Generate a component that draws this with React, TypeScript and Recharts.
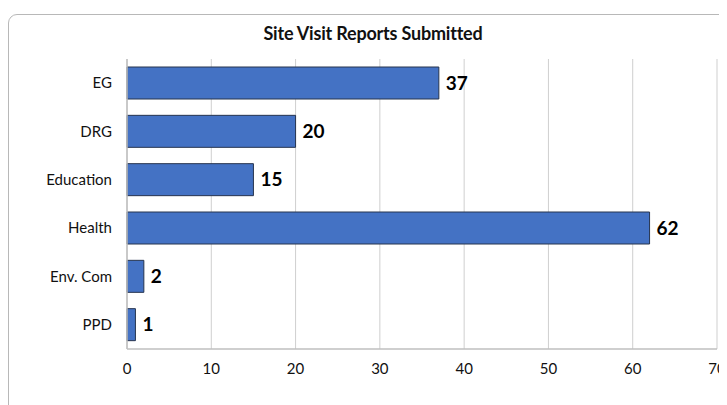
import React from "react";
import { BarChart, Bar, XAxis, YAxis, CartesianGrid, LabelList } from "recharts";

const categories = ["EG", "DRG", "Education", "Health", "Env. Com", "PPD"];
const reports = [37, 20, 15, 62, 2, 1];
const xTicks = [0, 10, 20, 30, 40, 50, 60, 70];
const title = "Site Visit Reports Submitted";

const data = categories.map((name, i) => ({ name, value: reports[i] }));

const FONT = "Lato, 'Open Sans', sans-serif";

export default function App() {
  return (
    <div style={{ position: "relative", width: 719, height: 397, overflow: "hidden", fontFamily: FONT }}>
      <div
        style={{
          position: "absolute",
          left: 0,
          top: 6,
          width: 900,
          height: 600,
          border: "1.5px solid #b8b8b8",
          borderRadius: 9,
          boxSizing: "border-box",
        }}
      />
      <div
        style={{
          position: "absolute",
          left: 0,
          width: 730,
          top: 14,
          textAlign: "center",
          fontSize: 18,
          fontWeight: 700,
          color: "#111",
          letterSpacing: -0.2,
        }}
      >
        {title}
      </div>
      <div style={{ position: "absolute", left: 0, top: 0 }}>
        <BarChart
          width={719}
          height={397}
          data={data}
          layout="vertical"
          margin={{ top: 51, right: 10, bottom: 0, left: 0 }}
        >
          <CartesianGrid horizontal={false} vertical={true} stroke="#cfcfcf" strokeWidth={1} />
          <XAxis
            type="number"
            domain={[0, 70]}
            ticks={xTicks}
            interval={0}
            height={56}
            axisLine={{ stroke: "#bfbfbf", strokeWidth: 1.5 }}
            tickLine={false}
            tickMargin={8}
            tick={{ fill: "#111", fontSize: 15, fontFamily: FONT }}
          />
          <YAxis
            type="category"
            dataKey="name"
            width={119}
            axisLine={{ stroke: "#bfbfbf", strokeWidth: 1.5 }}
            tickLine={false}
            tickMargin={9}
            tick={{ fill: "#111", fontSize: 15, fontFamily: FONT }}
          />
          <Bar dataKey="value" barSize={32} fill="#4472C4" stroke="#26344f" strokeWidth={1} isAnimationActive={false}>
            <LabelList
              dataKey="value"
              position="right"
              offset={7}
              style={{ fill: "#000", fontSize: 19, fontWeight: 700, fontFamily: FONT }}
            />
          </Bar>
        </BarChart>
      </div>
    </div>
  );
}
